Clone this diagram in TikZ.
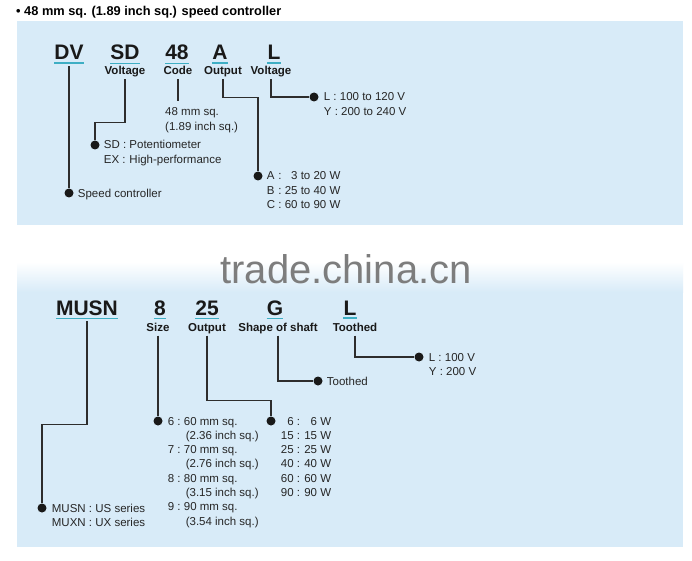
\documentclass[tikz,border=0pt]{standalone}
\usepackage{fontspec}
\setmainfont{Liberation Sans}
\usepackage{xcolor}
\usetikzlibrary{positioning,calc}
\definecolor{panelblue}{RGB}{216,235,248}
\definecolor{codeteal}{RGB}{62,174,196}
\definecolor{wireink}{RGB}{45,45,45}
\definecolor{markgray}{RGB}{125,125,125}

\begin{document}
\begin{tikzpicture}[
x=1pt,y=-1pt,
code/.style={font=\fontsize{21}{24}\selectfont\bfseries,inner sep=0pt,anchor=base,text=black!90},
lab/.style={font=\fontsize{11.5}{14}\selectfont\bfseries,inner sep=0pt,text depth=2.5pt,anchor=base,text=black!90},
txt/.style={font=\fontsize{11.5}{14.3}\selectfont,inner sep=0pt,anchor=base west,text=black!85},
dot/.style={circle,fill=black!90,inner sep=0pt,minimum size=9pt},
wire/.style={draw=wireink,line width=1.2pt},
uline/.style={draw=codeteal,line width=1.6pt}
]
\useasboundingbox (0,0) rectangle (692,561);
\fill[white] (0,0) rectangle (692,561);
% panels
\fill[panelblue] (17,21) rectangle (683,225);
\shade[top color=white,bottom color=panelblue] (17,262) rectangle (683,292);
\fill[panelblue] (17,292) rectangle (683,547);
\node[font=\fontsize{12.8}{15}\selectfont\bfseries,inner sep=0pt,anchor=base west] (title) at (16,15.5) {• 48 mm sq. (1.89 inch sq.) speed controller};
\node[font=\fontsize{40}{44}\selectfont,text=markgray,inner sep=0pt,anchor=base] (mark) at (346,283) {trade.china.cn};

% DV SD 48 A L
\node[code] (dv) at (69,60) {DV};
\node[code] (sd) at (125,60) {SD};
\node[code] (c48) at (177,60) {48};
\node[code] (ca) at (220,60) {A};
\node[code] (cl) at (274,60) {L};
\foreach \n in {dv,sd,c48,ca,cl}
  \draw[uline] ([yshift=-3pt]\n.south west) -- ([yshift=-3pt]\n.south east);
\node[lab] (sdlab) at (125,74.5) {Voltage};
\node[lab] (c48lab) at (178,74.5) {Code};
\node[lab] (calab) at (223,74.5) {Output};
\node[lab] (cllab) at (271,74.5) {Voltage};

\node[dot] (dvdot) at (69,193) {};
\node[dot] (sddot) at (95,145) {};
\node[dot] (cadot) at (258,176) {};
\node[dot] (cldot) at (314,97) {};

\node[txt] (dvtxt) at ([xshift=4pt,yshift=-4pt]dvdot.east) {Speed controller};
\node[txt] (sdtxt) at ([xshift=4pt,yshift=-4pt]sddot.east) {\begin{tabular}[t]{@{}l@{\ }l@{}}SD : & Potentiometer\\ EX : & High-performance\end{tabular}};
\node[txt] (c48txt) at (165,116) {\begin{tabular}[t]{@{}l@{}}48 mm sq.\\ (1.89 inch sq.)\end{tabular}};
\node[txt] (catxt) at ([xshift=4pt,yshift=-4pt]cadot.east) {\begin{tabular}[t]{@{}l@{ : }r@{}}A & 3 to 20 W\\ B & 25 to 40 W\\ C & 60 to 90 W\end{tabular}};
\node[txt] (cltxt) at ([xshift=5pt,yshift=-4pt]cldot.east) {\begin{tabular}[t]{@{}l@{}}L : 100 to 120 V\\ Y : 200 to 240 V\end{tabular}};

\draw[wire] ([yshift=-6pt]dv.south) -- (dvdot);
\draw[wire] ([yshift=-2pt]sdlab.south) -- ++(0,43) -| (sddot);
\draw[wire] ([yshift=-2pt]c48lab.south) -- ([yshift=5pt]c48lab.south |- c48txt.north);
\draw[wire] ([yshift=-2pt]calab.south) -- ++(0,18) -| (cadot);
\draw[wire] ([yshift=-2pt]cllab.south) |- (cldot);

% MUSN 8 25 G L
\node[code] (musn) at (87,315) {MUSN};
\node[code] (c8) at (160,315) {8};
\node[code] (c25) at (207,315) {25};
\node[code] (cg) at (275,315) {G};
\node[code] (ml) at (350,315) {L};
\foreach \n in {musn,c8,c25,cg,ml}
  \draw[uline] ([yshift=-3pt]\n.south west) -- ([yshift=-3pt]\n.south east);
\node[lab] (sizelab) at (158,331) {Size};
\node[lab] (outlab) at (207,331) {Output};
\node[lab] (shaftlab) at (278,331) {Shape of shaft};
\node[lab] (toothlab) at (355,331) {Toothed};

\node[dot] (musndot) at (42,508) {};
\node[dot] (sizedot) at (158,421) {};
\node[dot] (outdot) at (271,421) {};
\node[dot] (shaftdot) at (318,381) {};
\node[dot] (toothdot) at (419,357) {};

\node[txt] (musntxt) at ([xshift=5pt,yshift=-4pt]musndot.east) {\begin{tabular}[t]{@{}l@{}}MUSN : US series\\ MUXN : UX series\end{tabular}};
\node[txt] (sizetxt) at ([xshift=5pt,yshift=-4pt]sizedot.east) {\begin{tabular}[t]{@{}l@{\ }l@{}}6 : & 60 mm sq.\\ & \,(2.36 inch sq.)\\ 7 : & 70 mm sq.\\ & \,(2.76 inch sq.)\\ 8 : & 80 mm sq.\\ & \,(3.15 inch sq.)\\ 9 : & 90 mm sq.\\ & \,(3.54 inch sq.)\end{tabular}};
\node[txt] (outtxt) at ([xshift=5pt,yshift=-4pt]outdot.east) {\begin{tabular}[t]{@{}r@{ : }r@{}}6 & 6 W\\ 15 & 15 W\\ 25 & 25 W\\ 40 & 40 W\\ 60 & 60 W\\ 90 & 90 W\end{tabular}};
\node[txt] (shafttxt) at ([xshift=4pt,yshift=-4pt]shaftdot.east) {Toothed};
\node[txt] (toothtxt) at ([xshift=5pt,yshift=-4pt]toothdot.east) {\begin{tabular}[t]{@{}l@{}}L : 100 V\\ Y : 200 V\end{tabular}};

\draw[wire] ([yshift=-6pt]musn.south) -- ++(0,103) -| (musndot);
\draw[wire] ([yshift=-2pt]sizelab.south) -- (sizedot);
\draw[wire] ([yshift=-2pt]outlab.south) -- ++(0,65) -| (outdot);
\draw[wire] ([yshift=-2pt]shaftlab.south) |- (shaftdot);
\draw[wire] ([yshift=-2pt]toothlab.south) |- (toothdot);
\end{tikzpicture}
\end{document}
